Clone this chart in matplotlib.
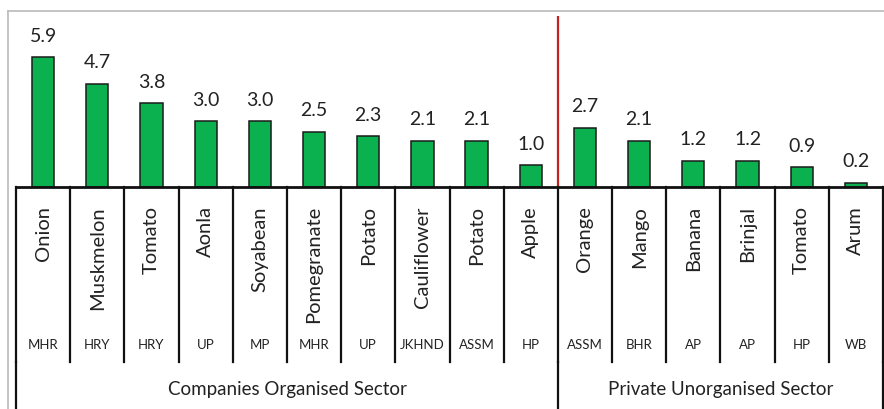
import matplotlib.pyplot as plt
from matplotlib.lines import Line2D

plt.rcParams['font.family'] = ['Lato', 'DejaVu Sans']

# crop, state and value (per sector)
crops = ['Onion', 'Muskmelon', 'Tomato', 'Aonla', 'Soyabean', 'Pomegranate', 'Potato',
         'Cauliflower', 'Potato', 'Apple', 'Orange', 'Mango', 'Banana', 'Brinjal',
         'Tomato', 'Arum']
states = ['MHR', 'HRY', 'HRY', 'UP', 'MP', 'MHR', 'UP', 'JKHND', 'ASSM', 'HP',
          'ASSM', 'BHR', 'AP', 'AP', 'HP', 'WB']
values = [5.9, 4.7, 3.8, 3.0, 3.0, 2.5, 2.3, 2.1, 2.1, 1.0,
          2.7, 2.1, 1.2, 1.2, 0.9, 0.2]
sectors = ['Companies Organised Sector', 'Private Unorganised Sector']
sector_sizes = [10, 6]

W, H = 884, 409
fig = plt.figure(figsize=(W / 100, H / 100), dpi=100)

# outer gray frame
fig.add_artist(Line2D([8 / W, 1], [1 - 11 / H, 1 - 11 / H], color='#bfbfbf', lw=1.3,
                      transform=fig.transFigure))
fig.add_artist(Line2D([8 / W, 8 / W], [0, 1 - 11 / H], color='#bfbfbf', lw=1.3,
                      transform=fig.transFigure))

x0, x1 = 16 / W, 883 / W
base = 187
ax = fig.add_axes([x0, 1 - base / H, x1 - x0, (base - 16) / H])
n = len(crops)
xs = list(range(n))
ax.bar(xs, values, width=0.41, color='#0bb04f', edgecolor='#1a1a1a', linewidth=1.1)
for x, v in zip(xs, values):
    ax.annotate(f'{v:.1f}', (x, v), xytext=(0, 9), textcoords='offset points',
                ha='center', va='bottom', fontsize=14, color='#222222')
ax.set_xlim(-0.5, n - 0.5)
ax.set_ylim(0, (base - 16) / 22.0)
ax.axvline(sector_sizes[0] - 0.5, color='#c8201e', lw=1.6)
ax.axis('off')

# category table below the bars
tb = fig.add_axes([x0, 0, x1 - x0, 1 - base / H])
tb.set_xlim(-0.5, n - 0.5)
tb.set_ylim(H - base, 0)
tb.axis('off')
tb.plot([-0.5, n - 0.5], [0, 0], color='#111111', lw=2, clip_on=False, solid_capstyle='butt')
cell_h = 175
for i in range(n + 1):
    tb.plot([i - 0.5, i - 0.5], [0, cell_h], color='#111111', lw=1.6, clip_on=False)
start = 0
for s in sector_sizes + [0]:
    tb.plot([start - 0.5, start - 0.5], [cell_h, H - base], color='#111111', lw=1.6,
            clip_on=False)
    start += s
for i, (c, st) in enumerate(zip(crops, states)):
    tb.text(i, 19, c, rotation=90, ha='center', va='top', fontsize=14.5, color='#222222')
    tb.text(i, 158, st, ha='center', va='center', fontsize=9.5, color='#222222')
start = 0
for name, s in zip(sectors, sector_sizes):
    tb.text(start - 0.5 + s / 2, 202, name, ha='center', va='center', fontsize=13.5,
            color='#222222')
    start += s

fig.savefig('out.png', dpi=100)
